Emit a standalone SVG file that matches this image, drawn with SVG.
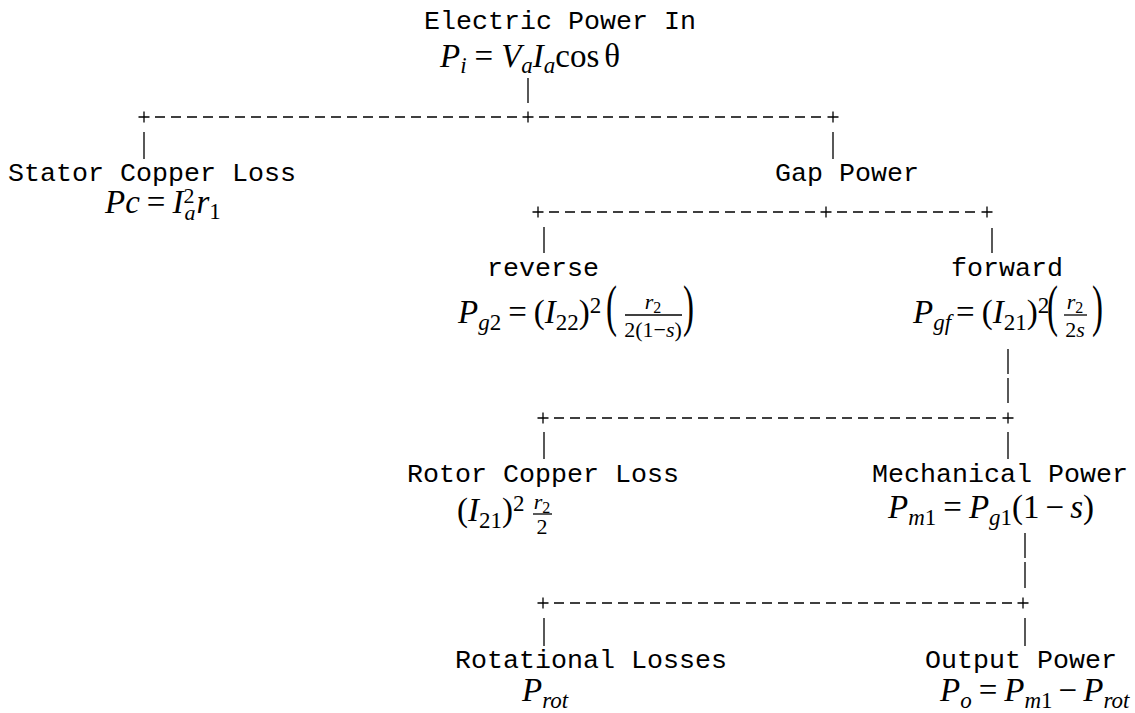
<svg xmlns="http://www.w3.org/2000/svg" width="1135" height="713" viewBox="0 0 1135 713">
<style>
.mono{font-family:"Liberation Mono","Courier New",monospace;font-size:26.67px;fill:#000}
.math{font-family:"Liberation Serif","Times New Roman",serif;font-size:33px;fill:#000}
.it{font-style:italic}
.sb{font-size:23px}
.s2{font-size:22px}
.fr{font-size:22px}
.ss{font-size:16px}
.dash{stroke:#000;stroke-width:1.3;fill:none;stroke-dasharray:10 6}
.ln{stroke:#000;stroke-width:1.3;fill:none}
</style>
<rect width="1135" height="713" fill="#fff"/>
<g id="connectors">
<path class="dash" d="M155 117H517M539 117H822M549 212H815M837 212H976M554 418H997M554 603H1012"/>
<path class="ln" d="M138.5 117h11M144 111.5v11M522.5 117h11M528 111.5v11M827.5 117h11M833 111.5v11M532.5 212h11M538 206.5v11M820.5 212h11M826 206.5v11M981.5 212h11M987 206.5v11M537.5 418h11M543 412.5v11M1002.5 418h11M1008 412.5v11M537.5 603h11M543 597.5v11M1017.5 603h11M1023 597.5v11"/>
<path class="ln" d="M528 78v25M144 132v27M833 132v27M544 227v26M992 228v25M1008 349v25M1008 378v25M544 432v27M1008 432v27M1025 533v25M1025 562v26M544 618v28M1025 618v28"/>
</g>
<g id="n-input">
<text class="mono" x="424" y="29">Electric Power In</text>
<text class="math" x="440" y="67"><tspan class="it">P</tspan><tspan class="it sb" dy="6">i</tspan><tspan dx="8" dy="-6">=</tspan><tspan class="it" dx="8">V</tspan><tspan class="it sb" dy="6">a</tspan><tspan class="it" dy="-6">I</tspan><tspan class="it sb" dy="6">a</tspan><tspan dy="-6">cos</tspan><tspan dx="5">θ</tspan></text>
</g>
<g id="n-stator">
<text class="mono" x="8" y="181">Stator Copper Loss</text>
<text class="math" x="105" y="213"><tspan class="it">Pc</tspan><tspan dx="7">=</tspan><tspan class="it" dx="7">I</tspan><tspan class="s2" dy="-10">2</tspan><tspan class="it s2" dx="-10" dy="17">a</tspan><tspan class="it" dx="1" dy="-7">r</tspan><tspan class="sb" dy="6">1</tspan></text>
</g>
<g id="n-gap">
<text class="mono" x="775" y="181">Gap Power</text>
</g>
<g id="n-reverse">
<text class="mono" x="487" y="276">reverse</text>
<text class="math" x="458" y="323"><tspan class="it">P</tspan><tspan class="it sb" dy="7">g</tspan><tspan class="sb">2</tspan><tspan dx="7" dy="-7">=</tspan><tspan dx="7">(</tspan><tspan class="it">I</tspan><tspan class="sb" dy="7">22</tspan><tspan dy="-7">)</tspan><tspan class="sb" dy="-10">2</tspan></text>
<text class="math" transform="translate(606 325) scale(1 1.75)">(</text>
<text class="math fr" x="653" y="309" text-anchor="middle"><tspan class="it">r</tspan><tspan class="ss" dy="4">2</tspan></text>
<line class="ln" x1="625" y1="315" x2="682" y2="315"/>
<text class="math fr" x="653" y="337" text-anchor="middle">2(1−<tspan class="it">s</tspan>)</text>
<text class="math" transform="translate(683 325) scale(1 1.75)">)</text>
</g>
<g id="n-forward">
<text class="mono" x="951" y="276">forward</text>
<text class="math" x="913" y="323"><tspan class="it">P</tspan><tspan class="it sb" dy="7">gf</tspan><tspan dx="5" dy="-7">=</tspan><tspan dx="7">(</tspan><tspan class="it">I</tspan><tspan class="sb" dy="7">21</tspan><tspan dy="-7">)</tspan><tspan class="sb" dy="-10">2</tspan></text>
<text class="math" transform="translate(1047 325) scale(1 1.75)">(</text>
<text class="math fr" x="1075" y="309" text-anchor="middle"><tspan class="it">r</tspan><tspan class="ss" dy="4">2</tspan></text>
<line class="ln" x1="1064" y1="315" x2="1087" y2="315"/>
<text class="math fr" x="1075" y="337" text-anchor="middle">2<tspan class="it">s</tspan></text>
<text class="math" transform="translate(1092 325) scale(1 1.75)">)</text>
</g>
<g id="n-rotor">
<text class="mono" x="407" y="482">Rotor Copper Loss</text>
<text class="math" x="457" y="521">(<tspan class="it">I</tspan><tspan class="sb" dy="7">21</tspan><tspan dy="-7">)</tspan><tspan class="sb" dy="-10">2</tspan></text>
<text class="math fr" x="542" y="509" text-anchor="middle"><tspan class="it">r</tspan><tspan class="ss" dy="4">2</tspan></text>
<line class="ln" x1="533" y1="514" x2="552" y2="514"/>
<text class="math fr" x="542" y="534" text-anchor="middle">2</text>
</g>
<g id="n-mech">
<text class="mono" x="872" y="482">Mechanical Power</text>
<text class="math" x="888" y="518"><tspan class="it">P</tspan><tspan class="it sb" dy="7">m</tspan><tspan class="sb">1</tspan><tspan dx="7" dy="-7">=</tspan><tspan class="it" dx="7">P</tspan><tspan class="it sb" dy="7">g</tspan><tspan class="sb">1</tspan><tspan dy="-7">(1</tspan><tspan dx="6">−</tspan><tspan class="it" dx="6">s</tspan>)</text>
</g>
<g id="n-rot">
<text class="mono" x="455" y="668">Rotational Losses</text>
<text class="math" x="522" y="701"><tspan class="it">P</tspan><tspan class="it sb" dy="7">rot</tspan></text>
</g>
<g id="n-output">
<text class="mono" x="925" y="668">Output Power</text>
<text class="math" x="940" y="701"><tspan class="it">P</tspan><tspan class="it sb" dy="7">o</tspan><tspan dx="7" dy="-7">=</tspan><tspan class="it" dx="7">P</tspan><tspan class="it sb" dy="7">m</tspan><tspan class="sb">1</tspan><tspan dx="6" dy="-7">−</tspan><tspan class="it" dx="6">P</tspan><tspan class="it sb" dy="7">rot</tspan></text>
</g>
</svg>
